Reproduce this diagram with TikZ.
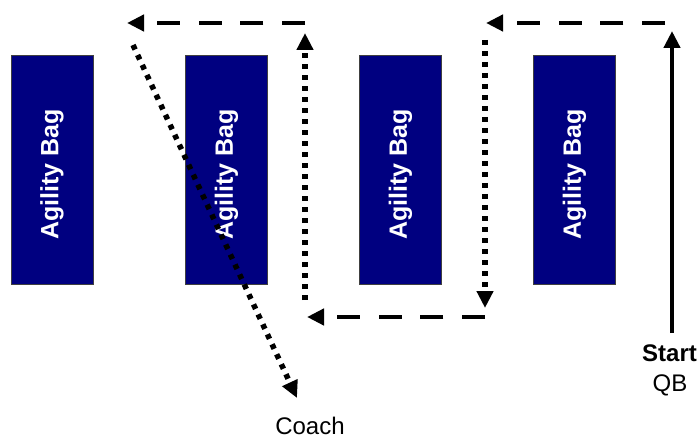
\documentclass[tikz,border=0pt]{standalone}
\usepackage{fontspec}
\setmainfont{Liberation Sans}
\usetikzlibrary{arrows.meta}
\definecolor{bagblue}{RGB}{0,0,128}
\begin{document}
\begin{tikzpicture}[x=1pt,y=-1pt,
  bag/.style={draw=black!75, line width=0.8pt, fill=bagblue,
    minimum width=82pt, minimum height=229pt, inner sep=0pt},
  baglabel/.style={text=white, font=\fontsize{25}{30}\selectfont\bfseries,
    rotate=90, inner sep=0pt},
  route/.style={line width=4.5pt, -{Triangle[length=17pt,width=16pt]}},
  run/.style={route, dash pattern=on 23pt off 18.7pt},
  weave/.style={route, line width=5.5pt, dash pattern=on 5pt off 6pt},
  lbl/.style={font=\fontsize{24}{28}\selectfont, inner sep=0pt, anchor=base}]
\useasboundingbox (0,0) rectangle (700,438);

% agility bags
\foreach \i/\x in {1/52,2/226.5,3/400.5,4/574.5}{
  \node[bag] (bag\i) at (\x,169.5) {};
  \node[baglabel] (baglbl\i) at ([yshift=-5pt]bag\i.center) {Agility Bag};
}

% labels
\node[lbl] (start) at (669.5,361) {\bfseries Start};
\node[lbl] (qb) at (670,391) {QB};
\node[lbl] (coach) at (310,434) {Coach};

% route corners
\coordinate (qb0) at (672,333);
\coordinate (qb1) at (672,31);
\coordinate (tr0) at (665,23);
\coordinate (tr1) at (486,23);
\coordinate (rv0) at (485,40);
\coordinate (rv1) at (485,308);
\coordinate (bm0) at (485,317);
\coordinate (bm1) at (307,317);
\coordinate (lv0) at (305,300);
\coordinate (lv1) at (305,33);
\coordinate (tl0) at (305,23);
\coordinate (tl1) at (127,23);
\coordinate (dg0) at (133,45);
\coordinate (dg1) at (297,398);

% quarterback route
\draw[route] (qb0) -- (qb1);
\draw[run] (tr0) -- (tr1);
\draw[weave] (rv0) -- (rv1);
\draw[run] (bm0) -- (bm1);
\draw[weave] (lv0) -- (lv1);
\draw[run] (tl0) -- (tl1);
\draw[weave] (dg0) -- (dg1);
\end{tikzpicture}
\end{document}
